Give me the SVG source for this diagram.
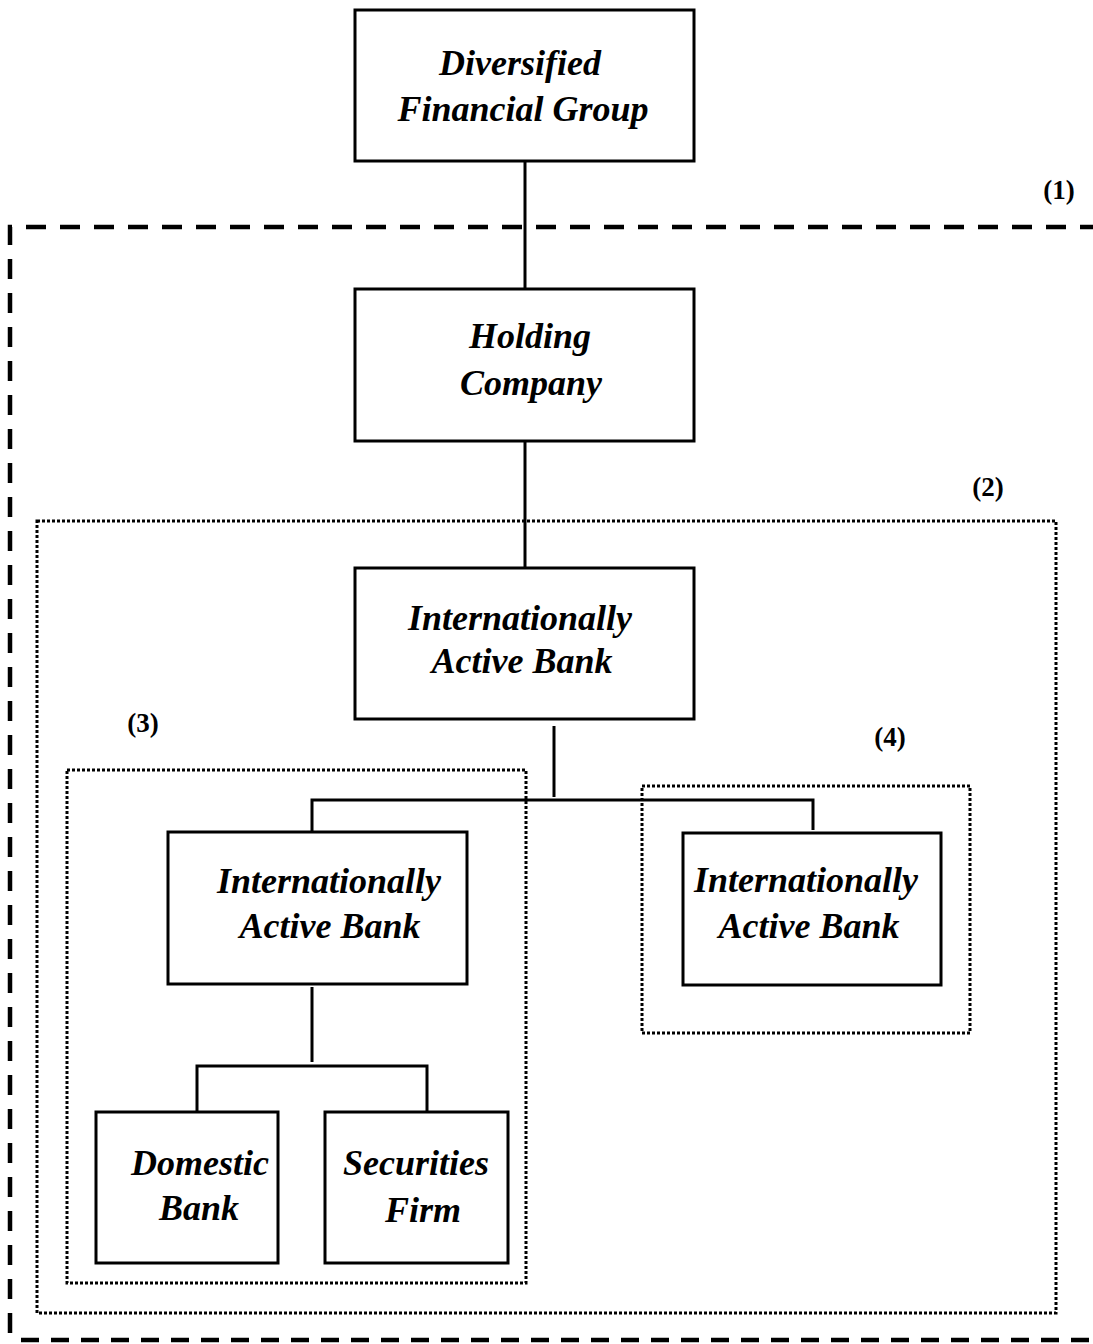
<svg xmlns="http://www.w3.org/2000/svg" width="1093" height="1344" viewBox="0 0 1093 1344">
<style>
.box{fill:#fff;stroke:#000;stroke-width:3}
.t{font-family:"Liberation Serif","Times New Roman",serif;font-weight:bold;font-style:italic;font-size:36px;text-anchor:middle;fill:#000}
.lbl{font-family:"Liberation Serif","Times New Roman",serif;font-weight:bold;font-size:27px;text-anchor:middle;fill:#000}
.dash{fill:none;stroke:#000;stroke-width:4.5;stroke-dasharray:20 14}
.dot{fill:none;stroke:#000;stroke-width:3;stroke-dasharray:3 2}
.ln{fill:none;stroke:#000;stroke-width:3}
</style>
<rect width="1093" height="1344" fill="#fff"/>
<g id="region1">
<path class="dash" d="M10,1333 V227 H1100"/>
<path class="dash" d="M21,1340 H1100" style="stroke-dasharray:18 12"/>
<text class="lbl" x="1059" y="199">(1)</text>
</g>
<g id="region2">
<rect class="dot" x="37" y="521" width="1019" height="792"/>
<text class="lbl" x="988" y="496">(2)</text>
</g>
<g id="region3">
<rect class="dot" x="67" y="770" width="459" height="513"/>
<text class="lbl" x="143" y="732">(3)</text>
</g>
<g id="region4">
<rect class="dot" x="642" y="786" width="328" height="247"/>
<text class="lbl" x="890" y="746">(4)</text>
</g>
<g id="connectors">
<path class="ln" d="M525,161 V289"/>
<path class="ln" d="M525,441 V568"/>
<path class="ln" d="M554,726 V797"/>
<path class="ln" d="M312,832 V800 H813 V830"/>
<path class="ln" d="M312,987 V1062"/>
<path class="ln" d="M197,1111 V1066 H427 V1111"/>
</g>
<g id="diversified-financial-group">
<rect class="box" x="355" y="10" width="339" height="151"/>
<text class="t" x="520" y="75">Diversified</text>
<text class="t" x="523" y="121">Financial Group</text>
</g>
<g id="holding-company">
<rect class="box" x="355" y="289" width="339" height="152"/>
<text class="t" x="530" y="348">Holding</text>
<text class="t" x="531" y="395">Company</text>
</g>
<g id="iab-top">
<rect class="box" x="355" y="568" width="339" height="151"/>
<text class="t" x="520" y="630">Internationally</text>
<text class="t" x="522" y="673">Active Bank</text>
</g>
<g id="iab-left">
<rect class="box" x="168" y="832" width="299" height="152"/>
<text class="t" x="329" y="893">Internationally</text>
<text class="t" x="330" y="938">Active Bank</text>
</g>
<g id="iab-right">
<rect class="box" x="683" y="833" width="258" height="152"/>
<text class="t" x="806" y="892">Internationally</text>
<text class="t" x="809" y="938">Active Bank</text>
</g>
<g id="domestic-bank">
<rect class="box" x="96" y="1112" width="182" height="151"/>
<text class="t" x="200" y="1175">Domestic</text>
<text class="t" x="199" y="1220">Bank</text>
</g>
<g id="securities-firm">
<rect class="box" x="325" y="1112" width="183" height="151"/>
<text class="t" x="416" y="1175">Securities</text>
<text class="t" x="423" y="1222">Firm</text>
</g>
</svg>
